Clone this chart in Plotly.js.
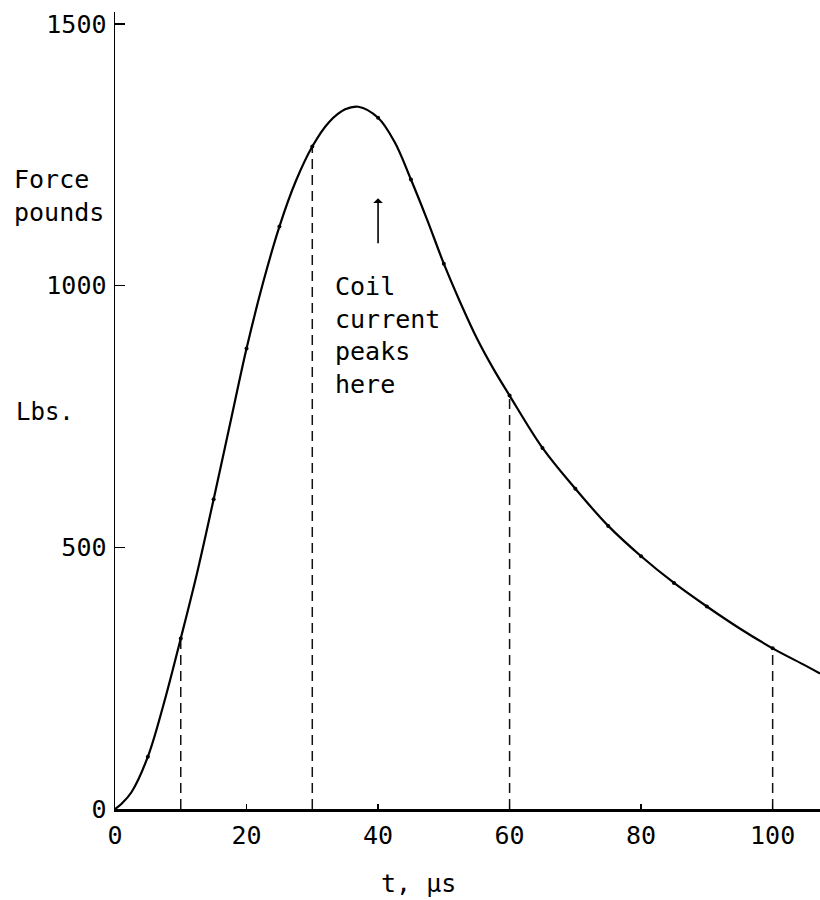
<!DOCTYPE html>
<html>
<head>
<meta charset="utf-8">
<script src="https://cdn.plot.ly/plotly-3.0.1.min.js"></script>
<style>html,body{margin:0;padding:0;background:#fff;}#chart{width:820px;height:900px;}</style>
</head>
<body>
<div id="chart"></div>
<script>
// Force vs time
const timeUs = [0, 1, 2.5, 5, 7.5, 10, 12.5, 15, 17.5, 20, 22.5, 25, 27.5, 30, 32.5, 35, 37, 40, 42.5, 45, 47.5, 50, 52.5, 55, 57.5, 60, 65, 70, 75, 80, 85, 90, 95, 100, 105, 107.2];
const forceLbs = [0, 10, 32, 100, 205, 326, 452, 592, 736, 880, 1005, 1113, 1200, 1266, 1312, 1337, 1342, 1321, 1275, 1203, 1125, 1042, 968, 900, 842, 790, 690, 612, 541, 483, 432, 387, 345, 307, 274, 259];
// Marked data points
const dotT = [5, 10, 15, 20, 25, 30, 40, 45, 50, 60, 65, 70, 75, 80, 85, 90, 100];
const dotF = [100, 326, 592, 880, 1113, 1266, 1321, 1203, 1042, 790, 690, 612, 541, 483, 432, 387, 307];
// Dashed drop lines
const dropT = [10, 30, 60, 100];
const dropF = [326, 1266, 790, 307];
// Ticks
const xTicks = [0, 20, 40, 60, 80, 100];
const yTicks = [0, 500, 1000, 1500];
// Arrow
const arrowX = 40, arrowTip = 1167, arrowTail = 1078;

const FONT = "DejaVu Sans Mono, monospace";
const traces = [];
dropT.forEach((t, i) => {
  traces.push({
    x: [t, t], y: [0, dropF[i]], mode: 'lines', showlegend: false, hoverinfo: 'skip',
    line: {color: '#111', width: 1.5, dash: '10px,6px'}
  });
});
traces.push({
  x: timeUs, y: forceLbs, mode: 'lines', showlegend: false,
  line: {color: '#000', width: 2.2, shape: 'spline', smoothing: 1}
});
traces.push({
  x: dotT, y: dotF, mode: 'markers', showlegend: false,
  marker: {color: '#000', size: 4}
});

const layout = {
  width: 820, height: 900,
  margin: {l: 115, r: 0, t: 12, b: 91},
  paper_bgcolor: '#fff', plot_bgcolor: '#fff',
  showlegend: false,
  font: {family: FONT, size: 24, color: '#000'},
  xaxis: {
    range: [0, 107.2], tickvals: xTicks, ticktext: xTicks.map(String),
    showgrid: false, zeroline: false, showline: true, linecolor: '#000', linewidth: 2.5,
    ticks: 'inside', ticklen: 5, tickwidth: 1.5, tickcolor: '#000',
    tickfont: {family: FONT, size: 25, color: '#000'}, ticklabelstandoff: 2,
    fixedrange: true
  },
  yaxis: {
    range: [0, 1523], tickvals: yTicks, ticktext: yTicks.map(String),
    showgrid: false, zeroline: false, showline: true, linecolor: '#000', linewidth: 1.5,
    ticks: 'inside', ticklen: 10, tickwidth: 1.5, tickcolor: '#000',
    tickfont: {family: FONT, size: 25, color: '#000'}, ticklabelstandoff: 2,
    fixedrange: true
  },
  annotations: [
    {x: 33.1, y: 1030, xref: 'x', yref: 'y', xanchor: 'left', yanchor: 'top', align: 'left',
     text: 'Coil<br>current<br>peaks<br>here', showarrow: false,
     font: {family: FONT, size: 25, color: '#000'}},
    {x: arrowX, y: arrowTip, ax: arrowX, ay: arrowTail, xref: 'x', yref: 'y', axref: 'x', ayref: 'y',
     text: '', showarrow: true, arrowhead: 1, arrowsize: 1, arrowwidth: 1.6, arrowcolor: '#000'},
    {x: 12, y: 196, xref: 'paper', yref: 'paper', xanchor: 'left', yanchor: 'middle', align: 'left',
     text: 'Force<br>pounds', showarrow: false, font: {family: FONT, size: 25, color: '#000'}},
    {x: 14, y: 412, xref: 'paper', yref: 'paper', xanchor: 'left', yanchor: 'middle', align: 'left',
     text: 'Lbs.', showarrow: false, font: {family: FONT, size: 24, color: '#000'}},
    {x: 418, y: 884, xref: 'paper', yref: 'paper', xanchor: 'center', yanchor: 'middle',
     text: 't, μs', showarrow: false, font: {family: FONT, size: 25, color: '#000'}}
  ]
};
// convert pixel-positioned label annotations to paper fractions
layout.annotations.forEach(a => {
  if (a.xref === 'paper') {
    a.x = (a.x - layout.margin.l) / (layout.width - layout.margin.l - layout.margin.r);
    a.y = 1 - (a.y - layout.margin.t) / (layout.height - layout.margin.t - layout.margin.b);
  }
});
Plotly.newPlot('chart', traces, layout, {staticPlot: true, displayModeBar: false});
</script>
</body>
</html>
